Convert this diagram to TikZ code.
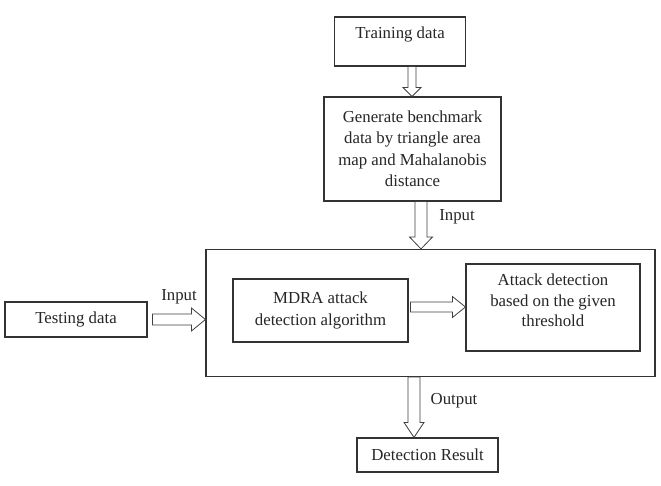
\documentclass[tikz,border=0pt]{standalone}
\usepackage{fontspec}
\setmainfont{Liberation Serif}
\usetikzlibrary{calc}
\tikzset{
  box/.style={draw=black!80, line width=1.1pt, fill=white, align=center, inner sep=2pt, text=black!85, font=\fontsize{16.8}{21.5}\selectfont},
  lbl/.style={text=black!85, font=\fontsize{16.8}{21.5}\selectfont, inner sep=0pt},
  hollow/.style={draw=black!75, line width=0.8pt, line join=miter}
}
\newcommand{\vhollow}[6]{% start, end, xcenter, shaft half, head half, head length
  \draw[hollow] let \p1=(#1), \p2=(#2) in
    (#3pt-#4pt,\y1) -- (#3pt-#4pt,\y2+#6pt) -- (#3pt-#5pt,\y2+#6pt) -- (#3pt,\y2)
    -- (#3pt+#5pt,\y2+#6pt) -- (#3pt+#4pt,\y2+#6pt) -- (#3pt+#4pt,\y1) -- cycle;}
\newcommand{\hhollow}[6]{% start, end, ycenter, shaft half, head half, head length
  \draw[hollow] let \p1=(#1), \p2=(#2) in
    (\x1,-#3pt+#4pt) -- (\x2-#6pt,-#3pt+#4pt) -- (\x2-#6pt,-#3pt+#5pt) -- (\x2,-#3pt)
    -- (\x2-#6pt,-#3pt-#5pt) -- (\x2-#6pt,-#3pt-#4pt) -- (\x1,-#3pt-#4pt) -- cycle;}
\begin{document}
\begin{tikzpicture}[x=1pt,y=-1pt]
\useasboundingbox[fill=white] (0,0) rectangle (661,486);
% nodes
\node[box, minimum width=131pt, minimum height=49pt, text depth=18pt] (train) at (400,41.5) {Training data};
\node[box, minimum width=177pt, minimum height=104pt] (gen) at (412.5,149)
  {Generate benchmark\\data by triangle area\\map and Mahalanobis\\distance};
\node[box, minimum width=449pt, minimum height=127pt] (big) at (430.5,313) {};
\node[box, minimum width=142pt, minimum height=35pt] (test) at (76,319.5) {Testing data};
\node[box, minimum width=175pt, minimum height=63pt] (mdra) at (320.5,310.5) {MDRA attack\\detection algorithm};
\node[box, minimum width=174pt, minimum height=87pt, font=\fontsize{16.8}{20.5}\selectfont] (attack) at (553,307.5) {Attack detection\\based on the given\\threshold\vphantom{g}\\[-6pt]};
\node[box, minimum width=141pt, minimum height=34pt] (result) at (427.5,455) {Detection Result};
% labels
\node[lbl] (lin1) at (457,217) {Input};
\node[lbl] (lin2) at (179,297) {Input};
\node[lbl] (lout) at (454,401) {Output};
% arrow end points
\coordinate (a3s) at ($(test.east)+(5,0)$);
\coordinate (a4s) at ($(mdra.east)+(2,0)$);
% arrows
\vhollow{train.south}{gen.north}{412}{4}{9}{9}
\vhollow{gen.south}{big.north}{421}{6}{11.5}{12}
\hhollow{a3s}{big.west}{319.5}{5.5}{11.5}{14}
\hhollow{a4s}{attack.west}{307}{5}{10.5}{13}
\vhollow{big.south}{result.north}{414}{6}{10}{15}
\end{tikzpicture}
\end{document}
